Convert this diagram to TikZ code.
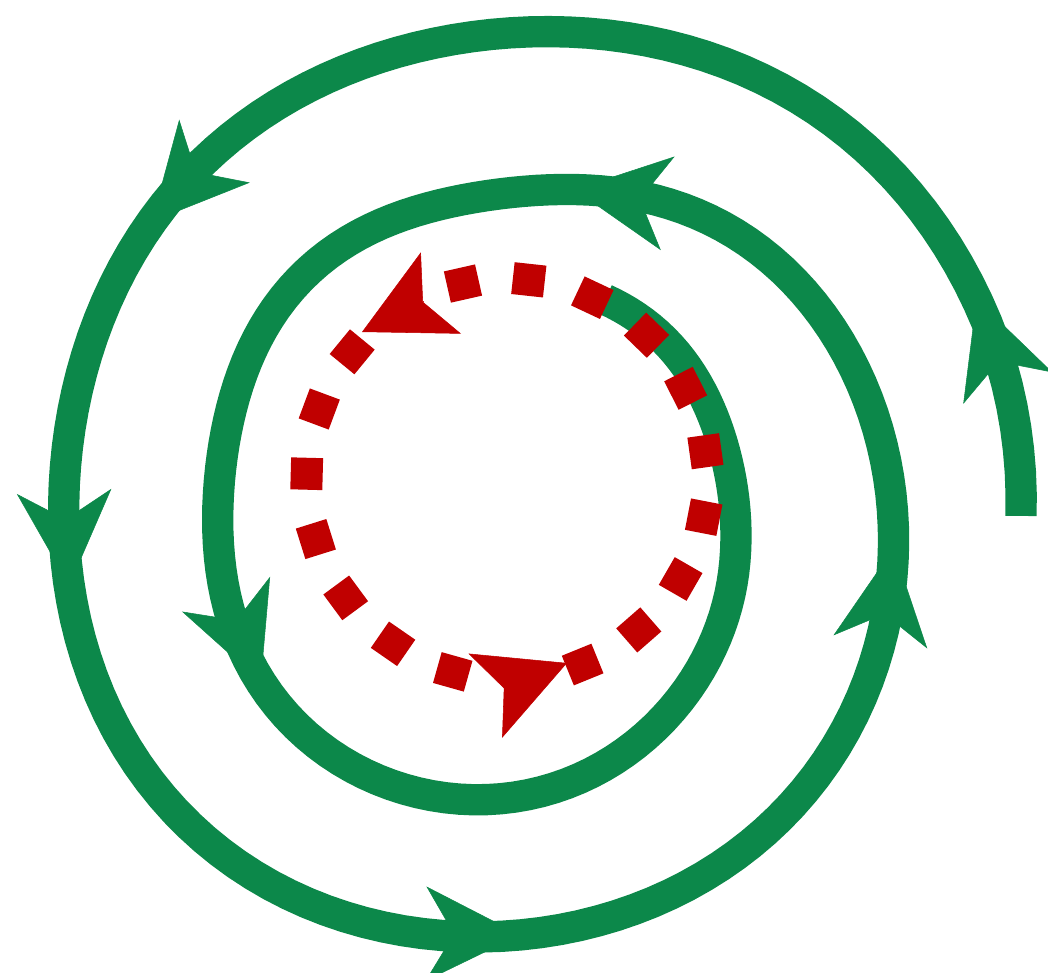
\documentclass[tikz,border=0pt]{standalone}
\usetikzlibrary{arrows.meta}
\definecolor{sgreen}{RGB}{12,136,74}
\definecolor{sred}{RGB}{192,0,0}
\pgfmathdeclarefunction{spr}{1}{%
  \pgfmathparse{525.75-0.411*#1+1.76*cos(#1)-41.5*sin(#1)-3.6*cos(2*#1)+3.6*sin(2*#1)-3.9*cos(4*#1)+30*(max(0,#1-700)/81.5)^2-9*(max(0,20-#1)/24)^2
   +10*exp(-((#1-360)/35)^2)-12*exp(-((#1-450)/35)^2)-7*exp(-((#1-540)/35)^2)+12*exp(-((#1-630)/35)^2)-10*exp(-((#1-675)/35)^2)}%
}
\tikzset{
  spiral/.style={draw=sgreen, line width=23.5pt, line cap=butt, line join=round},
  redsq/.style={draw=sred, line width=24pt, line cap=butt},
  garrow/.style={draw=sgreen, fill=sgreen, line width=0.4pt, shorten <=22pt,
    -{Stealth[length=71pt, width=71pt, inset=21pt, sgreen]}},
  rarrow/.style={draw=sred, fill=sred, line width=0.4pt, shorten <=16pt,
    -{Stealth[length=66pt, width=68pt, inset=15pt, sred]}}
}
\begin{document}
\begin{tikzpicture}[x=0.75pt, y=-0.75pt]
\useasboundingbox (0,0) rectangle (1048,973);
% green spiral, from the outer end (right) inwards, counter-clockwise
\draw[spiral] plot[domain=-4:781.5, samples=320, variable=\p]
  ({507+spr(\p)*cos(\p)},{480-spr(\p)*sin(\p)});
% green arrowheads along the spiral
\foreach \n/\pa/\pz in {1/10.4/21.1, 2/131.7/144, 3/181.3/193.6, 4/259.7/271.7,
                        5/336.4/350, 6/419.9/437, 7/561.2/579.4} {
  \coordinate (g\n b) at ({507+spr(\pa)*cos(\pa)},{480-spr(\pa)*sin(\pa)});
  \coordinate (g\n t) at ({507+spr(\pz)*cos(\pz)},{480-spr(\pz)*sin(\pz)});
  \draw[garrow] (g\n b) -- (g\n t);
}
% red dashed circle (squares)
\foreach \k in {0,...,9,11,12,13,14,15,16,17} {
  \pgfmathsetmacro\a{-102.7+18.947*\k}
  \draw[redsq] ({507+201*cos(\a-4.56)},{479+201*sin(\a-4.56)})
            -- ({507+201*cos(\a+4.56)},{479+201*sin(\a+4.56)});
}
% red arrowheads
\coordinate (r1b) at (443,292); \coordinate (r1t) at (362,332);
\coordinate (r2b) at (487,695); \coordinate (r2t) at (567,663);
\draw[rarrow] (r1b) -- (r1t);
\draw[rarrow] (r2b) -- (r2t);
\end{tikzpicture}
\end{document}
